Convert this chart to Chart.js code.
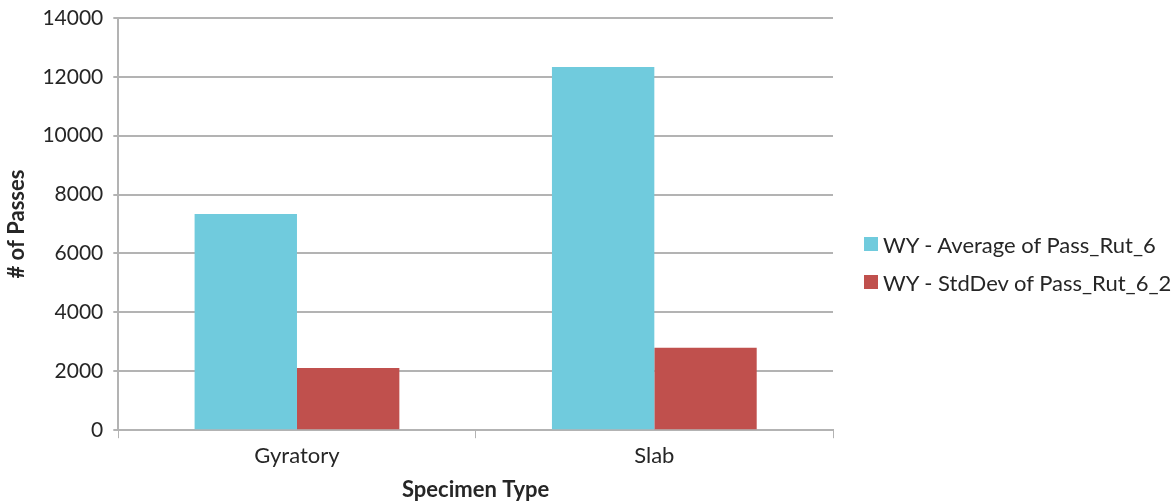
<!DOCTYPE html>
<html>
<head>
<meta charset="utf-8">
<script src="https://cdn.jsdelivr.net/npm/chart.js@4"></script>
<style>
  html, body { margin: 0; padding: 0; background: #fff; }
  #wrap { position: relative; width: 1175px; height: 503px; }
  #legend {
    position: absolute; left: 864px; top: 231px;
    font-family: Lato, 'Open Sans', sans-serif; font-size: 22px; color: #262626;
  }
  #legend .item { display: flex; align-items: center; height: 26px; margin-bottom: 12px; white-space: nowrap; }
  #legend .box { width: 14px; height: 14px; margin-right: 5px; flex: none; }
</style>
</head>
<body>
<div id="wrap">
  <canvas id="chart" width="1175" height="503"></canvas>
  <div id="legend"></div>
</div>
<script>
const categories = ["Gyratory", "Slab"];
const averagePasses = [7340, 12330];
const stdDevPasses = [2110, 2800];
const seriesNames = ["WY - Average of Pass_Rut_6", "WY - StdDev of Pass_Rut_6_2"];
const seriesColors = ['#70cbdd', '#c0504d'];

const FONT = "Lato, 'Open Sans', sans-serif";
const gridColor = '#b3b3b3';
const textColor = '#262626';

function drawChart() {
    const chart = new Chart(document.getElementById("chart").getContext("2d"), {
        type: "bar",
        data: {
            labels: categories,
            datasets: [
                {
                    label: seriesNames[0],
                    data: averagePasses,
                    backgroundColor: seriesColors[0],
                    categoryPercentage: 0.573,
                    barPercentage: 1
                },
                {
                    label: seriesNames[1],
                    data: stdDevPasses,
                    backgroundColor: seriesColors[1],
                    categoryPercentage: 0.573,
                    barPercentage: 1
                }
            ]
        },
        options: {
            responsive: false,
            animation: false,
            layout: { padding: { top: 0, right: 342, bottom: 0, left: 4 } },
            plugins: {
                tooltip: { enabled: false },
                legend: { display: false }
            },
            scales: {
                x: {
                    offset: true,
                    grid: {
                        offset: true,
                        drawOnChartArea: false,
                        color: gridColor,
                        tickLength: 8
                    },
                    border: { color: gridColor, width: 2 },
                    ticks: { font: { family: FONT, size: 22 }, color: textColor, padding: 5 },
                    title: {
                        display: true,
                        text: "Specimen Type",
                        font: { family: FONT, size: 22, weight: "bold" },
                        color: textColor,
                        padding: { top: 2, bottom: 0 }
                    }
                },
                y: {
                    min: 0,
                    max: 14000,
                    ticks: {
                        stepSize: 2000,
                        font: { family: FONT, size: 21, lineHeight: 0.75 },
                        color: textColor,
                        padding: 10,
                        callback: (v) => String(v)
                    },
                    grid: { color: gridColor, lineWidth: 2, tickLength: 5 },
                    border: { color: gridColor, width: 2 },
                    title: {
                        display: true,
                        text: "# of Passes",
                        font: { family: FONT, size: 22, weight: "bold" },
                        color: textColor,
                        padding: { top: 0, bottom: 2 }
                    }
                }
            }
        }
    });

    // HTML legend built from the chart's datasets
    const legend = document.getElementById("legend");
    chart.data.datasets.forEach((ds) => {
        const item = document.createElement("div");
        item.className = "item";
        const box = document.createElement("span");
        box.className = "box";
        box.style.background = ds.backgroundColor;
        const label = document.createElement("span");
        label.textContent = ds.label;
        item.appendChild(box);
        item.appendChild(label);
        legend.appendChild(item);
    });
}

Promise.all([
    document.fonts.load("21px Lato"),
    document.fonts.load("bold 22px Lato")
]).then(drawChart, drawChart);
</script>
</body>
</html>
